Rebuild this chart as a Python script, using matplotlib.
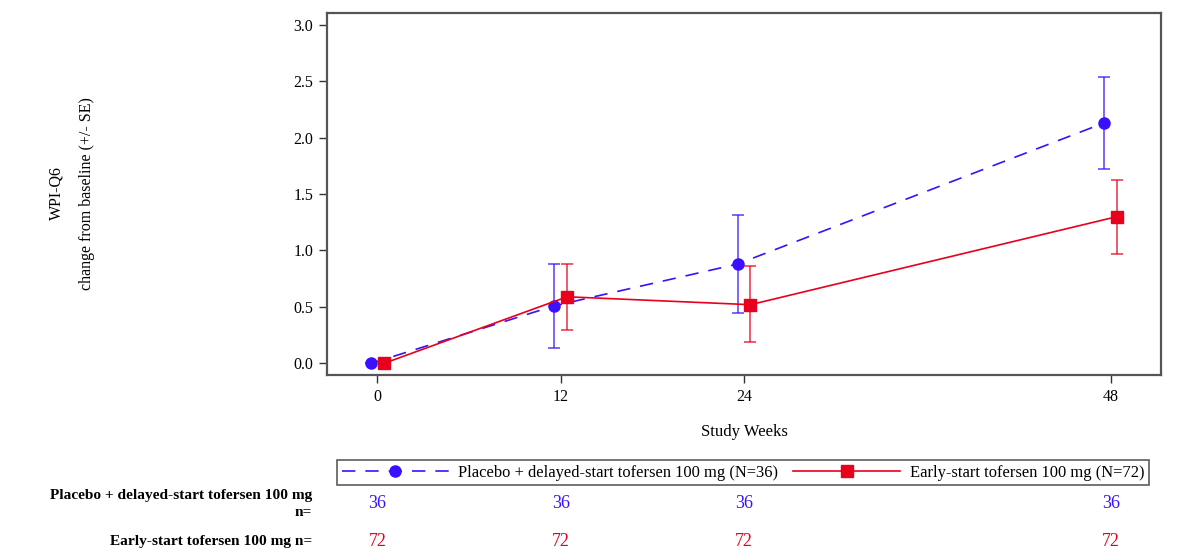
import numpy as np
import matplotlib.pyplot as plt
import matplotlib.transforms as mtransforms

plt.rcParams['font.family'] = ['Liberation Serif', 'DejaVu Serif']

weeks = [0, 12, 24, 48]
week_labels = ['0', '12', '24', '48']

pbo_name = 'Placebo + delayed-start tofersen 100 mg (N=36)'
pbo_mean = [0.0, 0.51, 0.88, 2.13]
pbo_lo = [0.0, 0.14, 0.45, 1.72]
pbo_hi = [0.0, 0.88, 1.31, 2.54]
pbo_n = [36, 36, 36, 36]

early_name = 'Early-start tofersen 100 mg (N=72)'
early_mean = [0.0, 0.59, 0.52, 1.30]
early_lo = [0.0, 0.30, 0.19, 0.97]
early_hi = [0.0, 0.88, 0.86, 1.62]
early_n = [72, 72, 72, 72]

blue = '#3a10ff'
red = '#e8001c'

fig = plt.figure(figsize=(11.94, 5.6), dpi=100)
ax = fig.add_axes([0.2739, 0.3309, 0.6985, 0.6453])

off = 0.42
x = np.array(weeks, dtype=float)

# placebo group
m = np.array(pbo_mean)
yerr = [m - np.array(pbo_lo), np.array(pbo_hi) - m]
ax.errorbar(x - off, m, yerr=yerr, fmt='none', ecolor=blue, alpha=0.7,
            elinewidth=1.3, capsize=4.5, capthick=1.3)
ax.plot(x - off, m, color=blue, ls=(0, (8, 6)), lw=1.2, marker='o', ms=8,
        label=pbo_name)

# early start group
m = np.array(early_mean)
yerr = [m - np.array(early_lo), np.array(early_hi) - m]
ax.errorbar(x + off, m, yerr=yerr, fmt='none', ecolor=red, alpha=0.7,
            elinewidth=1.3, capsize=4.5, capthick=1.3)
ax.plot(x + off, m, color=red, ls='-', lw=1.2, marker='s', ms=8,
        label=early_name)

ax.set_xlim(-3.3, 51.3)
ax.set_ylim(-0.1, 3.1)
ax.set_xticks(weeks)
ax.set_xticklabels(week_labels)
ax.set_yticks(np.arange(0, 3.01, 0.5))
ax.set_yticklabels([f'{v:.1f}' for v in np.arange(0, 3.01, 0.5)])
ax.tick_params(labelsize=11.5, length=6, width=1, color='#333333', pad=4)
for s in ax.spines.values():
    s.set_color('#555555')
    s.set_linewidth(1.6)

ax.set_xlabel('Study Weeks', fontsize=12, labelpad=14)
fig.text(0.047, 0.655, 'WPI-Q6', rotation=90, ha='center', va='center', fontsize=11.5)
fig.text(0.073, 0.655, 'change from baseline (+/- SE)', rotation=90, ha='center',
         va='center', fontsize=11.5)

leg = fig.legend(*ax.get_legend_handles_labels(), loc='upper left',
                 bbox_to_anchor=(337 / 1194, 1 - 460 / 560), borderaxespad=0,
                 ncol=2, frameon=True, fancybox=False, edgecolor='#333333',
                 fontsize=11.85, handlelength=6.5, borderpad=0.28,
                 columnspacing=0.9, handletextpad=0.6)
leg.get_frame().set_linewidth(1.2)

# number-at-risk table
tr = mtransforms.blended_transform_factory(ax.transData, fig.transFigure)
for xi, n in zip(weeks, pbo_n):
    ax.text(xi, 1 - 504 / 560, str(n), transform=tr, color=blue, ha='center',
            va='center', fontsize=13, clip_on=False)
for xi, n in zip(weeks, early_n):
    ax.text(xi, 1 - 542 / 560, str(n), transform=tr, color=red, ha='center',
            va='center', fontsize=13, clip_on=False)
fig.text(312 / 1194, 1 - 504 / 560, 'Placebo + delayed-start tofersen 100 mg\nn=',
         ha='right', va='center', fontsize=11.1, fontweight='bold', linespacing=1.45)
fig.text(312 / 1194, 1 - 542 / 560, 'Early-start tofersen 100 mg n=',
         ha='right', va='center', fontsize=11.1, fontweight='bold')

fig.savefig('out.png', dpi=100)
